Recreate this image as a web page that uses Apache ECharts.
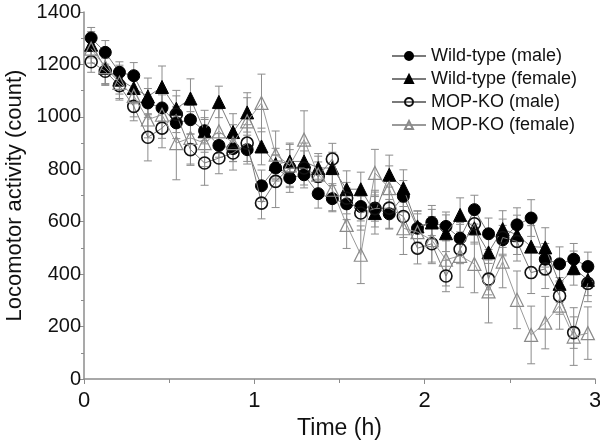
<!DOCTYPE html>
<html>
<head>
<meta charset="utf-8">
<script src="https://cdn.jsdelivr.net/npm/echarts@6/dist/echarts.min.js"></script>
<style>html,body{margin:0;padding:0;background:#fff}#c{width:600px;height:444px}</style>
</head>
<body>
<div id="c"></div>
<script>
// Time (h), 5-min bins (bin centres)
const times = [0.042,0.125,0.208,0.292,0.375,0.458,0.542,0.625,0.708,0.792,0.875,0.958,
  1.042,1.125,1.208,1.292,1.375,1.458,1.542,1.625,1.708,1.792,1.875,1.958,
  2.042,2.125,2.208,2.292,2.375,2.458,2.542,2.625,2.708,2.792,2.875,2.958];

const seriesNames = ['Wild-type (male)','Wild-type (female)','MOP-KO (male)','MOP-KO (female)'];

const wtMale = [1301,1246,1170,1157,1053,1034,977,989,947,891,879,875,
  737,805,767,779,707,688,668,658,652,630,697,575,
  597,582,537,646,554,531,588,614,457,439,457,429];
const wtMaleErr = [40,45,40,50,55,50,60,55,50,45,50,55,60,50,55,50,55,50,60,55,50,55,60,55,50,55,60,55,60,55,65,70,60,65,60,55];

const wtFemale = [1275,1187,1142,1110,1078,1114,1031,1070,945,1057,942,1017,
  887,820,830,830,805,805,724,724,633,779,728,582,
  597,556,626,575,483,572,550,505,502,363,423,378];
const wtFemaleErr = [50,60,55,60,70,80,70,75,80,60,70,75,70,60,65,70,55,60,70,65,80,75,70,60,65,70,65,60,80,70,75,80,75,70,65,60];

const koMale = [1210,1174,1119,1040,922,957,1010,875,824,843,862,900,
  671,754,805,805,773,839,690,633,650,652,620,499,
  516,393,495,592,381,540,525,406,420,317,177,365];
const koMaleErr = [40,50,55,55,90,75,70,60,85,60,65,70,60,100,70,65,55,60,60,65,70,80,80,60,70,60,55,70,60,70,75,80,75,70,60,70];

const koFemale = [1260,1190,1130,1080,990,1008,900,920,900,945,900,983,
  1053,856,815,913,780,722,588,474,786,728,575,560,
  530,455,470,439,334,448,302,168,215,280,162,175];
const koFemaleErr = [55,70,60,80,70,90,140,100,90,85,70,90,110,90,85,110,70,80,90,110,90,85,100,80,90,100,120,110,120,100,110,110,100,90,110,100];

const yTicks = [0,200,400,600,800,1000,1200,1400];
const xTicks = [0,1,2,3];

const FONT = 'Liberation Sans, Arial, sans-serif';
const allVals = [wtMale, wtFemale, koMale, koFemale];
const allErr = [wtMaleErr, wtFemaleErr, koMaleErr, koFemaleErr];

function errSeries(idx){
  return {
    type:'custom', name:'err'+idx, z:1, silent:true,
    data: times.map((t,i)=>[t, allVals[idx][i], allErr[idx][i]]),
    renderItem:function(params, api){
      const x = api.value(0), y = api.value(1), e = api.value(2);
      const top = api.coord([x, y+e]);
      const bot = api.coord([x, y-e]);
      const cw = 4;
      const st = {stroke:'#8c8c8c', lineWidth:1};
      return {type:'group', children:[
        {type:'line', shape:{x1:top[0],y1:top[1],x2:bot[0],y2:bot[1]}, style:st},
        {type:'line', shape:{x1:top[0]-cw,y1:top[1],x2:top[0]+cw,y2:top[1]}, style:st},
        {type:'line', shape:{x1:bot[0]-cw,y1:bot[1],x2:bot[0]+cw,y2:bot[1]}, style:st}
      ]};
    }
  };
}

const styles = [
  {symbol:'circle', symbolSize:12, item:{color:'#000', borderColor:'#000', borderWidth:1}, line:'#7a7a7a'},
  {symbol:'triangle', symbolSize:13, item:{color:'#000', borderColor:'#000', borderWidth:1}, line:'#7a7a7a'},
  {symbol:'circle', symbolSize:12, item:{color:'rgba(255,255,255,0)', borderColor:'#111', borderWidth:1.6}, line:'#7a7a7a'},
  {symbol:'triangle', symbolSize:13, item:{color:'rgba(255,255,255,0)', borderColor:'#8a8a8a', borderWidth:1.2}, line:'#9a9a9a'}
];

const lineSeries = seriesNames.map((n,idx)=>({
  type:'line', name:n, z:2+idx,
  data: times.map((t,i)=>[t, allVals[idx][i]]),
  symbol: styles[idx].symbol, symbolSize: styles[idx].symbolSize,
  showAllSymbol:true,
  lineStyle:{color:styles[idx].line, width:1},
  itemStyle:styles[idx].item,
  emphasis:{disabled:true},
  animation:false
}));

const chart = echarts.init(document.getElementById('c'), null, {renderer:'canvas'});
chart.setOption({
  animation:false,
  backgroundColor:'#fff',
  grid:{left:84, right:5, top:12, bottom:65, containLabel:false, outerBoundsMode:'none'},
  legend:{
    orient:'vertical', left:386, top:42,
    data:seriesNames,
    itemWidth:34, itemHeight:10, itemGap:5,
    textStyle:{fontFamily:FONT, fontSize:18, color:'#111'},
    selectedMode:false
  },
  xAxis:{
    type:'value', min:xTicks[0], max:xTicks[xTicks.length-1], interval:1,
    name:'Time (h)', nameLocation:'middle', nameGap:34,
    nameTextStyle:{fontFamily:FONT, fontSize:23, color:'#111'},
    axisLine:{show:true, lineStyle:{color:'#8c8c8c', width:1.5}},
    axisTick:{show:true, length:5, lineStyle:{color:'#8c8c8c'}},
    minorTick:{show:true, splitNumber:2, length:4, lineStyle:{color:'#8c8c8c'}},
    splitLine:{show:false},
    axisLabel:{fontFamily:FONT, fontSize:22, color:'#111', margin:11, formatter:v=>String(v)}
  },
  yAxis:{
    type:'value', min:yTicks[0], max:yTicks[yTicks.length-1], interval:200,
    name:'Locomotor activity (count)', nameLocation:'middle', nameGap:57, nameRotate:90,
    nameTextStyle:{fontFamily:FONT, fontSize:22, color:'#111'},
    axisLine:{show:true, lineStyle:{color:'#8c8c8c', width:1.5}},
    axisTick:{show:true, length:5, lineStyle:{color:'#8c8c8c'}},
    minorTick:{show:true, splitNumber:2, length:3, lineStyle:{color:'#8c8c8c'}},
    splitLine:{show:false},
    axisLabel:{fontFamily:FONT, fontSize:20, color:'#111', margin:3, formatter:v=>String(v)}
  },
  series:[errSeries(3), errSeries(2), errSeries(1), errSeries(0)].concat(lineSeries)
});
</script>
</body>
</html>
